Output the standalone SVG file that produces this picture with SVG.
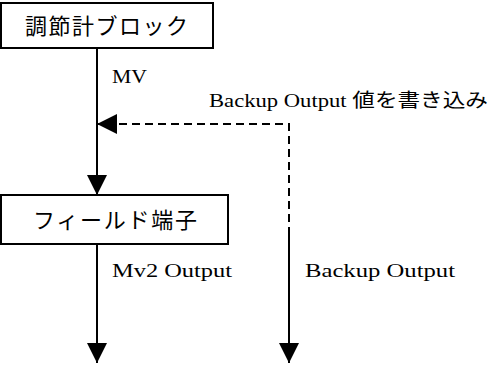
<svg xmlns="http://www.w3.org/2000/svg" width="497" height="365" viewBox="0 0 497 365">
<style>
.box{fill:#fff;stroke:#000;stroke-width:2}
.jp{font-family:"Noto Sans CJK JP","Noto Sans",sans-serif;font-size:22px;fill:#000}
.lbl{font-family:"Liberation Serif","Noto Sans CJK JP",serif;font-size:19px;fill:#000}
.ln{stroke:#000;stroke-width:2;fill:none}
.dash{stroke-dasharray:8,5}
</style>
<defs>
<marker id="ah" markerWidth="20" markerHeight="20" refX="20" refY="10" orient="auto" markerUnits="userSpaceOnUse" viewBox="0 0 20 20">
<path d="M0,0 L20,10 L0,20 Z" fill="#000"/>
</marker>
</defs>
<rect width="497" height="365" fill="#fff"/>
<g id="connectors">
<line class="ln" x1="97" y1="48" x2="97" y2="195" marker-end="url(#ah)"/>
<polyline class="ln dash" points="289,235 289,124 97,124" marker-end="url(#ah)"/>
<line class="ln" x1="289" y1="234" x2="289" y2="363" marker-end="url(#ah)"/>
<line class="ln" x1="97" y1="244" x2="97" y2="363" marker-end="url(#ah)"/>
</g>
<g id="node-controller">
<rect class="box" x="1" y="3" width="212" height="45"/>
<text class="jp" x="25" y="34" textLength="163" lengthAdjust="spacing">調節計ブロック</text>
</g>
<g id="node-field">
<rect class="box" x="1" y="195" width="227" height="49"/>
<text class="jp" x="33" y="228" textLength="164" lengthAdjust="spacing">フィールド端子</text>
</g>
<g id="labels">
<text class="lbl" x="112" y="83" textLength="35" lengthAdjust="spacingAndGlyphs">MV</text>
<text class="lbl" x="209" y="107" textLength="279" lengthAdjust="spacingAndGlyphs">Backup Output 値を書き込み</text>
<text class="lbl" x="112" y="277" textLength="120" lengthAdjust="spacingAndGlyphs">Mv2 Output</text>
<text class="lbl" x="305" y="277" textLength="150" lengthAdjust="spacingAndGlyphs">Backup Output</text>
</g>
</svg>
